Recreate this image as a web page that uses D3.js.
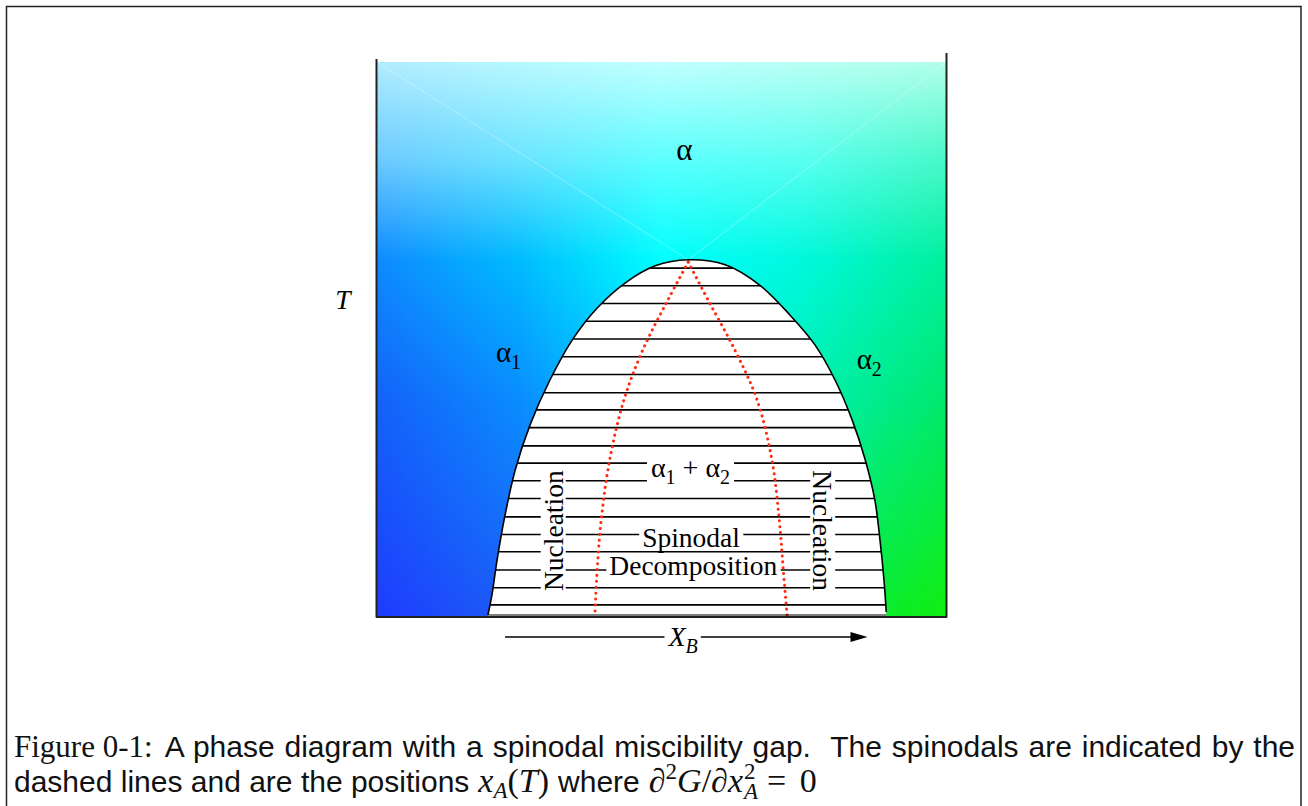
<!DOCTYPE html>
<meta charset="utf-8">
<style>
  body { margin: 0; background: #fff; }
  svg { display: block; }
  .lbl { font-family: "Liberation Serif", "Times New Roman", serif; font-size: 27.5px; fill: #000; }
  .sans { font-family: "Liberation Sans", Arial, sans-serif; }
  .serif { font-family: "Liberation Serif", "Times New Roman", serif; }
  .tie { stroke: #000; stroke-width: 1.6px; }
</style>
<svg width="1308" height="806"></svg>
<script src="https://d3js.org/d3.v7.min.js"></script>
<script>
  // binodal (miscibility gap boundary), [X_B, T], left branch bottom -> top
  var binodalLeft = [[0.195, 0.002], [0.202, 0.038], [0.211, 0.101], [0.225, 0.182], [0.243, 0.264],
    [0.269, 0.345], [0.304, 0.426], [0.343, 0.498], [0.387, 0.556], [0.436, 0.601], [0.489, 0.632], [0.547, 0.643]];
  // right branch top -> bottom
  var binodalRight = [[0.612, 0.634], [0.673, 0.597], [0.726, 0.543], [0.770, 0.489], [0.805, 0.426],
    [0.835, 0.354], [0.858, 0.282], [0.875, 0.209], [0.884, 0.137], [0.891, 0.065], [0.895, 0.007]];
  // spinodals, both start at the critical point
  var spinodalLeft = [[0.547, 0.639], [0.511, 0.570], [0.467, 0.480], [0.434, 0.390], [0.409, 0.282],
    [0.394, 0.173], [0.387, 0.083], [0.383, 0.002]];
  var spinodalRight = [[0.547, 0.639], [0.582, 0.570], [0.629, 0.480], [0.668, 0.390], [0.694, 0.282],
    [0.707, 0.173], [0.714, 0.083], [0.721, -0.002]];
  // temperatures of the tie lines
  var tieT = [0.628, 0.596, 0.564, 0.532, 0.500, 0.468, 0.436, 0.403, 0.372, 0.340,
    0.307, 0.276, 0.244, 0.212, 0.179, 0.147, 0.116, 0.083, 0.051, 0.020];

  // background colour mesh (rows top -> bottom, columns left -> right)
  var bgCols = [0, 0.25, 0.5, 0.75, 1];
  var bgRows = [0, 0.177, 0.357, 0.61, 1];
  var bgColors = [
    ["#b0ecff", "#b8f8ff", "#c0ffff", "#b8fff4", "#b0ffea"],
    ["#6ccaff", "#6ae4ff", "#5cffff", "#58fff0", "#48f8c8"],
    ["#0e8aff", "#00bcff", "#00ffff", "#00f8dc", "#00f09c"],
    ["#1462f8", "#0a8cff", "#00d8ff", "#00f0b0", "#00e86c"],
    ["#1e3cff", "#1c5ef4", "#30a0c8", "#04e850", "#10ee10"]
  ];

  var svg = d3.select("svg");
  var x = d3.scaleLinear().domain([0, 1]).range([377, 946]);
  var y = d3.scaleLinear().domain([0, 1]).range([616, 62]);

  // outer figure frame
  svg.append("rect").attr("x", 6.5).attr("y", 6.5).attr("width", 1294.5).attr("height", 830)
    .attr("fill", "none").attr("stroke", "#222").attr("stroke-width", 1.5);

  // --- gradient background, painted on a canvas
  var cw = Math.round(x(1) - x(0)), ch = Math.round(y(0) - y(1));
  var canvas = document.createElement("canvas");
  canvas.width = cw; canvas.height = ch;
  var ctx = canvas.getContext("2d");
  var img = ctx.createImageData(cw, ch);
  var rowPx = bgColors.map(function(row) {
    var s = d3.scaleLinear().domain(bgCols).range(row).interpolate(d3.interpolateRgb);
    var a = [];
    for (var i = 0; i < cw; i++) a.push(d3.rgb(s(i / (cw - 1))));
    return a;
  });
  for (var j = 0; j < ch; j++) {
    var f = j / (ch - 1), k = 0;
    while (k < bgRows.length - 2 && f > bgRows[k + 1]) k++;
    var t = (f - bgRows[k]) / (bgRows[k + 1] - bgRows[k]);
    for (var i = 0; i < cw; i++) {
      var c0 = rowPx[k][i], c1 = rowPx[k + 1][i], p = (j * cw + i) * 4;
      img.data[p] = c0.r + (c1.r - c0.r) * t;
      img.data[p + 1] = c0.g + (c1.g - c0.g) * t;
      img.data[p + 2] = c0.b + (c1.b - c0.b) * t;
      img.data[p + 3] = 255;
    }
  }
  ctx.putImageData(img, 0, 0);
  svg.append("image").attr("x", x(0)).attr("y", y(1)).attr("width", cw).attr("height", ch)
    .attr("preserveAspectRatio", "none").attr("href", canvas.toDataURL());

  var apex = binodalLeft[binodalLeft.length - 1];
  // faint mesh seams from the top corners to the critical point
  svg.append("g").selectAll("line").data([0, 1]).enter().append("line")
    .attr("x1", function(d) { return x(d); }).attr("y1", y(1))
    .attr("x2", x(apex[0])).attr("y2", y(apex[1]))
    .attr("stroke", "#fff").attr("stroke-opacity", 0.45).attr("stroke-width", 0.7);

  // --- miscibility gap
  var line = d3.line().x(function(d) { return x(d[0]); }).y(function(d) { return y(d[1]); });
  var arc = line.curve(d3.curveCatmullRom)(binodalLeft.concat(binodalRight));
  var last = binodalRight[binodalRight.length - 1];
  var domePath = arc + "L" + x(last[0]) + "," + y(0) + "L" + x(binodalLeft[0][0]) + "," + y(0) + "Z";

  svg.append("clipPath").attr("id", "dome").append("path").attr("d", domePath);
  svg.append("path").attr("d", domePath).attr("fill", "#fff");

  svg.append("g").attr("clip-path", "url(#dome)").selectAll("line").data(tieT).enter().append("line")
    .attr("class", "tie")
    .attr("x1", x(0.1)).attr("x2", x(0.95))
    .attr("y1", function(d) { return y(d); }).attr("y2", function(d) { return y(d); });

  var spin = d3.line().x(function(d) { return x(d[0]); }).y(function(d) { return y(d[1]); })
    .curve(d3.curveCatmullRom);
  svg.append("g").selectAll("path").data([spinodalLeft, spinodalRight]).enter().append("path")
    .attr("d", spin).attr("fill", "none").attr("stroke", "#ff2a10").attr("stroke-width", 3)
    .attr("stroke-linecap", "round").attr("stroke-dasharray", "0.1 5.8");

  svg.append("path").attr("d", arc).attr("fill", "none").attr("stroke", "#000").attr("stroke-width", 1.6);
  svg.append("line").attr("x1", x(binodalLeft[0][0])).attr("x2", x(last[0]))
    .attr("y1", y(0) - 1).attr("y2", y(0) - 1).attr("stroke", "#000").attr("stroke-width", 1.2);

  // --- X_B arrow (drawn before the labels so its label can knock it out)
  var ay = y(0) + 21;
  svg.append("line").attr("x1", x(0.225)).attr("x2", x(0.845)).attr("y1", ay).attr("y2", ay)
    .attr("stroke", "#000").attr("stroke-width", 1.4);
  svg.append("path").attr("d", "M" + x(0.862) + "," + ay + "l-17,-5l0,10z").attr("fill", "#000");

  // --- labels
  var labels = svg.append("g").attr("class", "lbl");

  function knock(sel, pad) {
    sel.each(function() {
      var node = this, b = node.getBBox();
      d3.select(node.parentNode).insert("rect", function() { return node; })
        .attr("x", b.x - pad).attr("y", b.y + 3).attr("width", b.width + 2 * pad).attr("height", b.height - 6)
        .attr("fill", "#fff");
    });
  }

  function phase(g, px, py, sub, size) {
    var tx = g.append("text").attr("x", px).attr("y", py).attr("font-size", size);
    tx.append("tspan").text("α");
    if (sub) tx.append("tspan").attr("dy", 7).attr("font-size", 20).text(sub);
    return tx;
  }

  phase(labels, x(0.540), y(0.823), null, 31).attr("text-anchor", "middle");
  phase(labels, x(0.209), y(0.458), "1", 29);
  phase(labels, x(0.843), y(0.446), "2", 29);

  labels.append("text").attr("x", 343).attr("y", 309).attr("text-anchor", "middle")
    .attr("font-style", "italic").text("T");

  var mix = labels.append("text").attr("x", x(0.551)).attr("y", y(0.251)).attr("text-anchor", "middle")
    .attr("font-size", 28);
  mix.append("tspan").text("α");
  mix.append("tspan").attr("dy", 7).attr("font-size", 20).text("1");
  mix.append("tspan").attr("dy", -7).text(" + α");
  mix.append("tspan").attr("dy", 7).attr("font-size", 20).text("2");
  knock(mix, 4);

  var sp = labels.append("text").attr("x", x(0.552)).attr("y", y(0.125)).attr("text-anchor", "middle")
    .text("Spinodal");
  knock(sp, 3);
  var dc = labels.append("text").attr("x", x(0.556)).attr("y", y(0.074)).attr("text-anchor", "middle")
    .text("Decomposition");
  knock(dc, 3);

  [[x(0.309), -90], [x(0.784), 90]].forEach(function(n) {
    var g = labels.append("g").attr("transform", "translate(" + n[0] + "," + y(0.154) + ") rotate(" + n[1] + ")");
    var tx = g.append("text").attr("text-anchor", "middle").attr("dy", "0.36em").text("Nucleation");
    knock(tx, 2);
  });

  var xb = labels.append("text").attr("x", x(0.538)).attr("y", ay + 9).attr("text-anchor", "middle")
    .attr("font-size", 28);
  xb.append("tspan").attr("font-style", "italic").text("X");
  xb.append("tspan").attr("dy", 7).attr("font-size", 20).attr("font-style", "italic").text("B");
  knock(xb, 3);

  // --- plot frame
  var frame = svg.append("g").attr("stroke", "#222").attr("stroke-width", 2);
  frame.append("line").attr("x1", x(0) - 0.5).attr("x2", x(0) - 0.5).attr("y1", y(1) - 3).attr("y2", y(0) + 1.5);
  frame.append("line").attr("x1", x(1) + 0.5).attr("x2", x(1) + 0.5).attr("y1", y(1) - 9).attr("y2", y(0) + 1.5);
  frame.append("line").attr("x1", x(0) - 1).attr("x2", x(1) + 1).attr("y1", y(0) + 1).attr("y2", y(0) + 1);

  // --- caption
  var cap = svg.append("g").attr("fill", "#111");
  function piece(px, py, str, cls, size, italic) {
    var tx = cap.append("text").attr("class", cls).attr("x", px).attr("y", py)
      .attr("font-size", size).text(str);
    if (italic) tx.attr("font-style", "italic");
    return tx;
  }
  function w(sel) { return sel.node().getComputedTextLength(); }

  var b1 = 757, b2 = 792, sz = 30, msz = 34, ssz = 23;
  var fig = piece(14, b1, "Figure 0-1:", "serif", 31);
  var body = "A phase diagram with a spinodal miscibility gap.  The spinodals are indicated by the";
  var start = 14 + w(fig) + 12;
  var l1 = piece(start, b1, body, "sans", sz).attr("xml:space", "preserve");
  var spaces = body.split(" ").length - 1;
  l1.attr("word-spacing", (1295 - start - w(l1)) / spaces);

  var cx = 14;
  var s1 = piece(cx, b2, "dashed lines and are the positions", "sans", sz); cx += w(s1) + 9;
  var m1 = piece(cx, b2, "x", "serif", msz, true); cx += w(m1);
  var m2 = piece(cx, b2 + 6, "A", "serif", ssz, true); cx += w(m2);
  var m3 = piece(cx, b2, "(", "serif", msz); cx += w(m3);
  var m4 = piece(cx, b2, "T", "serif", msz, true); cx += w(m4);
  var m5 = piece(cx, b2, ")", "serif", msz); cx += w(m5) + 9;
  var s2 = piece(cx, b2, "where", "sans", sz); cx += w(s2) + 9;
  var d1 = piece(cx, b2, "∂", "serif", msz, true); cx += w(d1);
  var d2 = piece(cx, b2 - 13, "2", "serif", ssz); cx += w(d2);
  var d3 = piece(cx, b2, "G", "serif", msz, true); cx += w(d3);
  var d4 = piece(cx, b2, "/", "serif", msz); cx += w(d4);
  var d5 = piece(cx, b2, "∂", "serif", msz, true); cx += w(d5);
  var d6 = piece(cx, b2, "x", "serif", msz, true); cx += w(d6) + 1;
  var d7 = piece(cx, b2 - 13, "2", "serif", ssz);
  var d8 = piece(cx, b2 + 7, "A", "serif", ssz, true); cx += Math.max(w(d7), w(d8)) + 9;
  var d9 = piece(cx, b2, "= 0", "serif", msz).attr("xml:space", "preserve").attr("word-spacing", 5);
</script>
